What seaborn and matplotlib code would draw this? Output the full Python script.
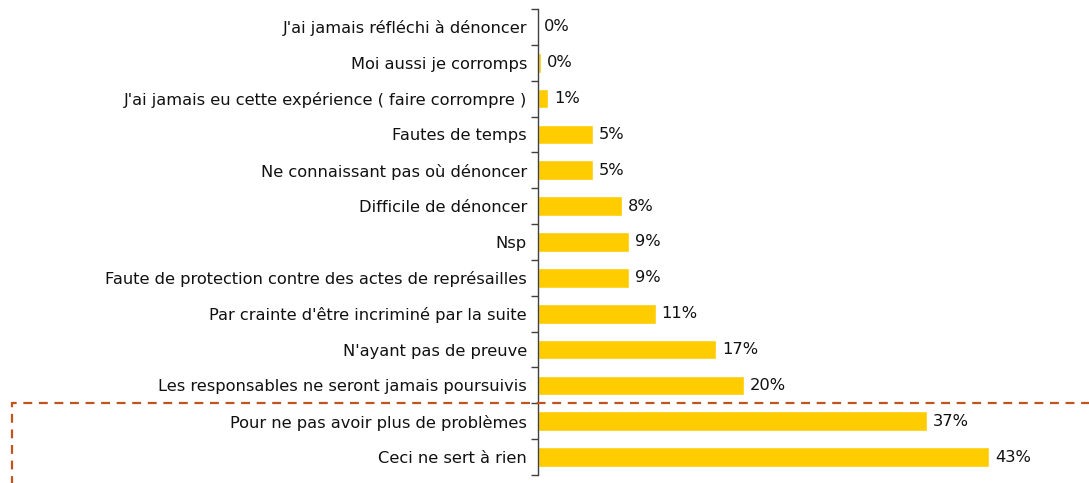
import numpy as np
import pandas as pd
import matplotlib
matplotlib.use("Agg")
import matplotlib.pyplot as plt
import seaborn as sns
from matplotlib.patches import Rectangle

# Raisons de ne pas dénoncer (en %)
raisons = [
    "J'ai jamais réfléchi à dénoncer",
    "Moi aussi je corromps",
    "J'ai jamais eu cette expérience ( faire corrompre )",
    "Fautes de temps",
    "Ne connaissant pas où dénoncer",
    "Difficile de dénoncer",
    "Nsp",
    "Faute de protection contre des actes de représailles",
    "Par crainte d'être incriminé par la suite",
    "N'ayant pas de preuve",
    "Les responsables ne seront jamais poursuivis",
    "Pour ne pas avoir plus de problèmes",
    "Ceci ne sert à rien",
]
valeurs = [0.05, 0.3, 1.0, 5.2, 5.2, 8.0, 8.7, 8.7, 11.2, 17.0, 19.6, 37.1, 43.0]
etiquettes = ["0%", "0%", "1%", "5%", "5%", "8%", "9%", "9%", "11%", "17%", "20%", "37%", "43%"]

df = pd.DataFrame({"raison": raisons, "valeur": valeurs})

sns.set_style("white")
plt.rcParams['font.family'] = ['DejaVu Sans']

fig = plt.figure(figsize=(10.89, 4.83), dpi=100)
ax = fig.add_axes([538 / 1089, 8 / 483, 1 - 538 / 1089, 1 - 17 / 483])

sns.barplot(data=df, x="valeur", y="raison", color="#FFCC00", saturation=1,
            width=0.55, ax=ax)

ax.set_xlim(0, 52.5)
ax.set_ylim(12.5, -0.5)
ax.set_xlabel("")
ax.set_ylabel("")
ax.set_xticks([])
for s in ["top", "right", "bottom"]:
    ax.spines[s].set_visible(False)
ax.spines["left"].set_color("#404040")
ax.spines["left"].set_linewidth(1.0)

ax.tick_params(axis="y", which="major", left=False, length=0, pad=8,
               labelsize=11.7, labelcolor="#111111")
ax.set_yticks(np.arange(-0.5, 13, 1), minor=True)
ax.tick_params(axis="y", which="minor", left=True, length=5, color="#404040",
               width=1, direction="out")

for i, (v, t) in enumerate(zip(valeurs, etiquettes)):
    ax.text(v + 0.55, i, t, va="center", ha="left", fontsize=11.7, color="#111111")

# cadre pointillé autour des deux dernières raisons
y_top = 1 - 403 / 483
rect = Rectangle((12 / 1089, -0.2), 1.2, y_top + 0.2, transform=fig.transFigure,
                 fill=False, edgecolor="#C0541E", linewidth=1.6,
                 linestyle=(0, (4, 3)), clip_on=False)
fig.patches.append(rect)

fig.savefig("out.png", dpi=100)
